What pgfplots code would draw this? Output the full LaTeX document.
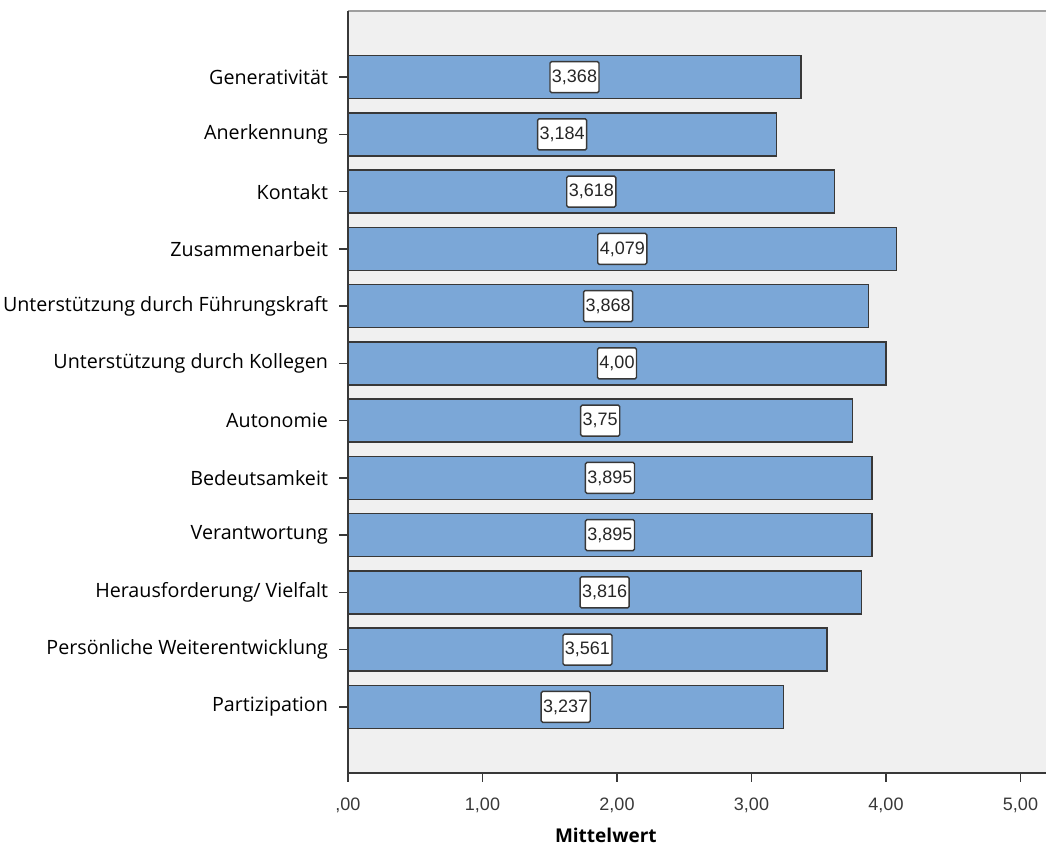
\documentclass[border=0pt]{standalone}
\usepackage{pgfplots}
\usepackage{pgfplotstable}
\pgfplotsset{compat=1.18}
\usepackage{fontspec}
\setmainfont{Open Sans}
\newfontfamily\arial{Liberation Sans}

\definecolor{barblue}{HTML}{7BA7D7}
\definecolor{bg}{HTML}{F0F0F0}
\definecolor{ax}{HTML}{383838}

% pos = row from bottom, value = Mittelwert, label = printed value
\pgfplotstableread{
pos value label
11 3.368 3,368
10 3.184 3,184
9  3.618 3,618
8  4.079 4,079
7  3.868 3,868
6  4.00  4,00
5  3.75  3,75
4  3.895 3,895
3  3.895 3,895
2  3.816 3,816
1  3.561 3,561
0  3.237 3,237
}\mwdata

\begin{document}
\begin{tikzpicture}
\begin{axis}[
    scale only axis,
    width=726.3bp, height=762bp,
    xmin=0, xmax=5.4,
    ymin=-1.155, ymax=12.155,
    axis background/.style={fill=bg},
    axis line style={draw=none},
    xtick={0,1,2,3,4,5},
    xticklabels={{,00},{1,00},{2,00},{3,00},{4,00},{5,00}},
    ytick={0,...,11},
    yticklabels={Partizipation,Persönliche Weiterentwicklung,Herausforderung/ Vielfalt,Verantwortung,Bedeutsamkeit,Autonomie,Unterstützung durch Kollegen,Unterstützung durch Führungskraft,Zusammenarbeit,Kontakt,Anerkennung,Generativität},
    xtick pos=bottom, ytick pos=left,
    x tick style={draw=ax, line width=1.6bp},
    y tick style={draw=ax, line width=1.6bp},
    xtick align=outside, ytick align=outside,
    major tick length=8.5bp,
    xticklabel style={font=\arial\fontsize{18bp}{21bp}\selectfont, text=ax, anchor=center, yshift=-24bp},
    yticklabel style={font=\fontsize{19.7bp}{23bp}\selectfont, text=black, anchor=east, xshift=-8bp},
    xlabel={Mittelwert},
    x label style={at={(axis description cs:0.355,0)}, anchor=center, yshift=-62bp, font=\bfseries\fontsize{19bp}{22bp}\selectfont},
    clip=false,
]
\addplot[xbar, bar width=43bp, fill=barblue, draw=ax, line width=1.4bp]
    table[x=value, y=pos]{\mwdata};
\addplot[draw=none, mark=none, nodes near coords, point meta=explicit symbolic,
    nodes near coords align=center,
    every node near coord/.style={font=\arial\fontsize{18bp}{21bp}\selectfont, text=black!85,
        fill=white, draw=ax, line width=1.4bp, rounded corners=1.5bp,
        inner xsep=2bp, inner ysep=0pt, minimum height=31bp, anchor=center}]
    table[x expr=\thisrow{value}/2, y=pos, meta=label]{\mwdata};
\draw[gray!75, line width=2.5bp] (rel axis cs:0,1) -- (rel axis cs:1,1);
\draw[ax, line width=2bp] (rel axis cs:0,1) -- (rel axis cs:0,0) -- (rel axis cs:1,0);
\end{axis}
\pgfresetboundingbox
\useasboundingbox (-348bp,-72bp) rectangle (698bp,773bp);
\end{tikzpicture}
\end{document}
